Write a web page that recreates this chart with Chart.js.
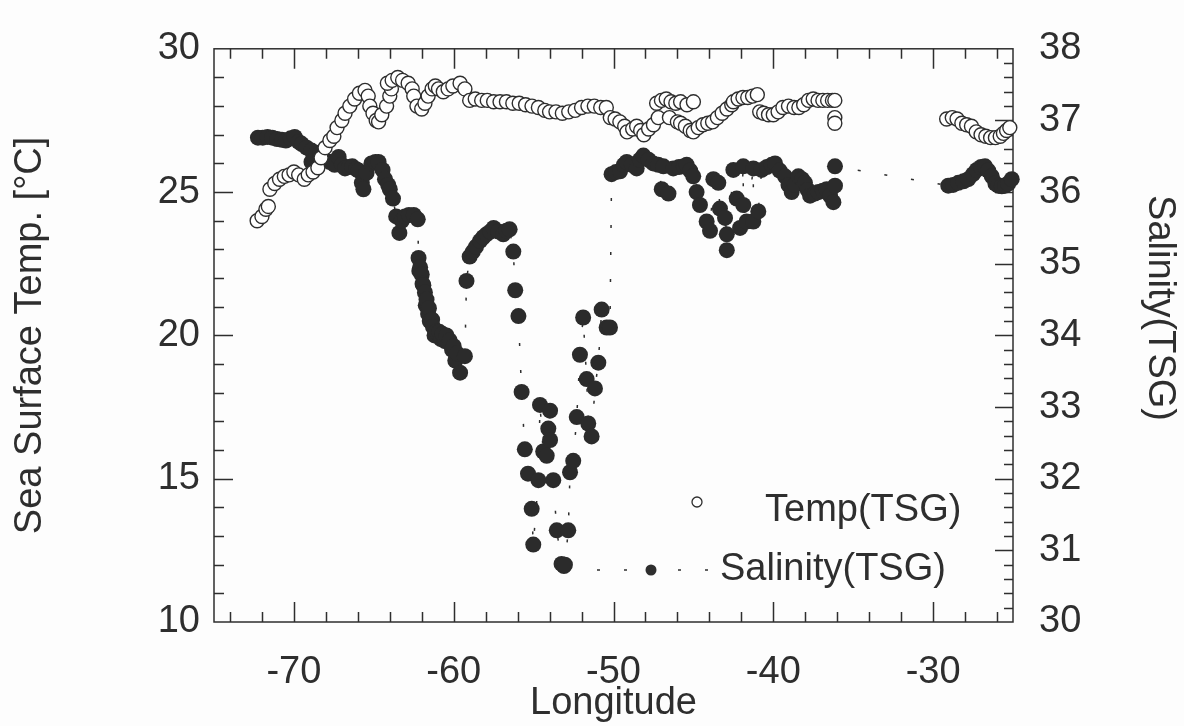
<!DOCTYPE html>
<html>
<head>
<meta charset="utf-8">
<script src="https://cdn.jsdelivr.net/npm/chart.js@4.4.1/dist/chart.umd.min.js"></script>
<style>
  html, body { margin: 0; padding: 0; background: #fdfdfd; }
  #wrap { width: 1184px; height: 726px; position: relative; }
</style>
</head>
<body>
<div id="wrap"><canvas id="tsgChart"></canvas></div>
<script>
// TSG record along the track: longitude and value, same order in each pair of arrays
var tempLon = [
  -72.3, -72.0, -71.75, -71.6, -71.5, -71.2, -70.9, -70.6, -70.3, -70.0,
  -69.7, -69.35, -69.1, -68.8, -68.5, -68.3, -68.05, -67.75, -67.5, -67.3,
  -67.0, -66.8, -66.5, -66.2, -65.9, -65.55, -65.35, -65.25, -65.05, -64.85,
  -64.7, -64.5, -64.2, -64.0, -63.9, -64.15, -63.85, -63.5, -63.2, -62.85,
  -62.6, -62.5, -62.3, -62.0, -61.8, -61.6, -61.35, -61.15, -60.95, -60.65,
  -60.35, -60.05, -59.6, -59.3, -59.0, -58.65, -58.25, -57.9, -57.5, -57.1,
  -56.7, -56.3, -55.9, -55.5, -55.1, -54.7, -54.3, -54.0, -53.6, -53.2,
  -52.8, -52.4, -52.0, -51.6, -51.2, -50.8, -50.45, -50.2, -49.9, -49.6,
  -49.3, -49.15, -48.8, -48.55, -48.3, -48.1, -47.8, -47.5, -47.2, -47.3,
  -47.0, -46.7, -46.4, -46.1, -45.8, -45.4, -45.0, -46.5, -46.0, -45.8,
  -45.5, -45.2, -45.0, -44.7, -44.4, -44.1, -43.8, -43.5, -43.2, -42.9,
  -42.6, -42.5, -42.2, -41.9, -41.6, -41.3, -41.0, -40.85, -40.6, -40.3,
  -40.0, -39.7, -39.4, -39.05, -38.7, -38.4, -38.1, -37.8, -37.5, -37.2,
  -36.9, -36.6, -36.3, -36.15, -36.15, -36.15, -29.15, -28.8, -28.5, -28.2,
  -27.9, -27.6, -27.3, -27.0, -26.7, -26.4, -26.1, -25.8, -25.6, -25.4,
  -25.2
];
var tempVal = [
  24.0, 24.15, 24.4, 24.5, 25.1, 25.3, 25.45, 25.55, 25.6, 25.7,
  25.6, 25.45, 25.6, 25.7, 25.85, 26.2, 26.55, 26.8, 26.95, 27.25,
  27.5, 27.75, 28.0, 28.25, 28.45, 28.55, 28.35, 28.0, 27.75, 27.5,
  27.45, 27.7, 28.0, 28.35, 28.6, 28.8, 28.9, 29.0, 28.9, 28.8,
  28.6, 28.35, 28.0, 27.9, 28.1, 28.35, 28.6, 28.7, 28.6, 28.5,
  28.6, 28.7, 28.8, 28.6, 28.2, 28.25, 28.2, 28.2, 28.15, 28.15,
  28.15, 28.1, 28.1, 28.05, 28.0, 27.95, 27.85, 27.8, 27.8, 27.75,
  27.8, 27.85, 27.95, 28.0, 28.0, 27.95, 27.95, 27.6, 27.55, 27.45,
  27.3, 27.1, 27.2, 27.3, 27.15, 27.0, 27.2, 27.35, 27.6, 28.1,
  28.2, 28.25, 28.15, 28.1, 28.15, 28.05, 28.15, 27.6, 27.45, 27.4,
  27.3, 27.15, 27.1, 27.25, 27.35, 27.4, 27.45, 27.6, 27.75, 27.9,
  28.05, 28.15, 28.25, 28.3, 28.3, 28.35, 28.4, 27.8, 27.75, 27.7,
  27.7, 27.8, 27.95, 28.0, 27.95, 27.95, 28.05, 28.2, 28.25, 28.2,
  28.2, 28.2, 28.2, 28.2, 27.6, 27.4, 27.55, 27.6, 27.55, 27.4,
  27.35, 27.3, 27.1, 27.0, 26.95, 26.9, 26.9, 26.95, 27.05, 27.15,
  27.25
];
var salLon = [
  -72.25, -71.95, -71.65, -71.35, -71.05, -70.75, -70.5, -70.2, -69.95, -69.7,
  -69.5, -69.2, -68.9, -68.9, -68.6, -68.35, -68.05, -67.75, -67.45, -67.2,
  -67.0, -66.8, -66.55, -66.35, -66.1, -65.95, -65.75, -65.65, -65.45, -65.15,
  -64.9, -64.7, -64.45, -64.3, -64.1, -64.0, -63.8, -63.6, -63.4, -63.25,
  -63.05, -62.8, -62.5, -62.25, -62.2, -62.15, -62.1, -62.0, -61.95, -61.9,
  -61.8, -61.75, -61.7, -61.6, -61.55, -61.5, -61.35, -61.3, -61.2, -61.1,
  -60.9, -60.8, -60.7, -60.55, -60.45, -60.25, -60.1, -60.0, -59.9, -59.8,
  -59.6, -59.3, -59.2, -59.0, -58.8, -58.6, -58.35, -58.15, -57.95, -57.7,
  -57.5, -57.2, -56.9, -56.7, -56.5, -56.27, -56.15, -55.95, -55.75, -55.55,
  -55.35, -55.12, -55.02, -54.7, -54.6, -54.4, -54.18, -54.08, -53.97, -53.97,
  -53.77, -53.55, -53.25, -53.1, -53.04, -52.83, -52.72, -52.52, -52.3, -52.1,
  -51.9, -51.68, -51.58, -51.37, -51.16, -50.95, -50.74, -50.43, -50.22, -50.12,
  -49.85, -49.59, -49.35, -49.17, -48.85, -48.55, -48.35, -48.13, -47.8, -47.51,
  -47.2, -46.98, -46.88, -46.56, -46.26, -45.9, -45.6, -45.42, -45.2, -45.01,
  -44.8, -44.59, -44.17, -43.96, -43.75, -43.44, -43.34, -43.02, -42.91, -42.91,
  -42.5, -42.29, -42.08, -41.88, -41.88, -41.67, -41.25, -41.25, -40.94, -40.73,
  -40.4, -40.1, -39.89, -39.6, -39.27, -39.05, -38.85, -38.65, -38.43, -38.2,
  -38.02, -37.85, -37.7, -37.4, -37.18, -36.9, -36.66, -36.45, -36.24, -36.14,
  -36.14, -29.05, -28.75, -28.42, -28.1, -27.8, -27.5, -27.27, -27.0, -26.75,
  -26.55, -26.33, -26.1, -25.92, -25.7, -25.5, -25.3, -25.08
];
var salVal = [
  36.76, 36.76, 36.77, 36.76, 36.74, 36.73, 36.72, 36.75, 36.77, 36.7,
  36.67, 36.62, 36.58, 36.42, 36.55, 36.53, 36.45, 36.42, 36.38, 36.49,
  36.38, 36.33, 36.35, 36.36, 36.32, 36.3, 36.13, 36.04, 36.27, 36.4,
  36.42, 36.42, 36.31, 36.18, 36.1, 36.04, 35.91, 35.66, 35.43, 35.6,
  35.66, 35.68, 35.68, 35.62, 35.08, 34.9, 34.95, 34.85, 34.72, 34.7,
  34.6, 34.42, 34.5, 34.3, 34.38, 34.2, 34.22, 34.12, 34.0, 34.05,
  34.05, 33.95, 34.02, 33.92, 34.0, 33.93, 33.8, 33.85, 33.65, 33.75,
  33.48, 33.71, 34.76, 35.1, 35.17, 35.24, 35.32, 35.37, 35.41, 35.45,
  35.5, 35.45, 35.41, 35.46, 35.48, 35.17, 34.63, 34.27, 33.21, 32.41,
  32.07, 31.58, 31.08, 31.98, 33.03, 32.38, 32.32, 32.7, 32.95, 32.54,
  31.98, 31.28, 30.81, 30.78, 30.8, 31.28, 32.09, 32.25, 32.86, 33.73,
  34.25, 33.39, 32.77, 32.59, 33.26, 33.62, 34.36, 34.11, 34.11, 36.25,
  36.28, 36.29, 36.38, 36.42, 36.38, 36.33, 36.45, 36.51, 36.45, 36.4,
  36.38, 36.04, 36.36, 35.98, 36.33, 36.35, 36.36, 36.38, 36.3, 36.22,
  36.0, 35.82, 35.59, 35.46, 36.18, 36.13, 35.77, 35.64, 35.41, 35.19,
  36.31, 35.91, 35.5, 36.36, 35.82, 35.59, 36.33, 35.59, 35.73, 36.31,
  36.35, 36.38, 36.4, 36.3, 36.22, 36.1, 36.0, 36.1, 36.22, 36.18,
  36.13, 36.03, 35.95, 35.98, 36.0, 36.02, 36.04, 35.95, 35.86, 36.09,
  36.36, 36.09, 36.1, 36.13, 36.15, 36.18, 36.25, 36.31, 36.35, 36.36,
  36.3, 36.22, 36.12, 36.09, 36.08, 36.09, 36.12, 36.18
];

var lonTicks = [-70, -60, -50, -40, -30];
var tempTicks = [10, 15, 20, 25, 30];
var salTicks = [30, 31, 32, 33, 34, 35, 36, 37, 38];

var ink = '#2e2e2e';
var family = "'Liberation Sans', Arial, Helvetica, sans-serif";
var bigFont = { family: family, size: 38 };

function toPoints(xs, ys) {
  return xs.map(function (x, i) { return { x: x, y: ys[i] }; });
}

function fixedTicks(values) {
  return function (scale) {
    scale.ticks = values.map(function (v) { return { value: v }; });
  };
}

// box around the plot with inward ticks on all four sides
var frameTicks = {
  id: 'frameTicks',
  beforeDatasetsDraw: function (chart) {
    var ctx = chart.ctx, a = chart.chartArea;
    var sx = chart.scales.x, sy = chart.scales.y, sy1 = chart.scales.y1;
    var i, p, len;
    ctx.save();
    ctx.strokeStyle = ink;
    ctx.lineWidth = 1.5;
    ctx.beginPath();
    // longitude: minor every 2, major every 10
    for (i = -74; i <= -26; i += 2) {
      p = Math.round(sx.getPixelForValue(i)) + 0.5;
      len = i % 10 === 0 ? 20 : 10;
      ctx.moveTo(p, a.bottom); ctx.lineTo(p, a.bottom - len);
      ctx.moveTo(p, a.top); ctx.lineTo(p, a.top + len);
    }
    // temperature: minor every 1, major every 5
    for (i = 11; i <= 29; i++) {
      p = Math.round(sy.getPixelForValue(i)) + 0.5;
      len = i % 5 === 0 ? 19 : 10;
      ctx.moveTo(a.left, p); ctx.lineTo(a.left + len, p);
    }
    // salinity: minor every 0.2, major every 1
    for (i = 151; i <= 189; i++) {
      p = Math.round(sy1.getPixelForValue(i / 5)) + 0.5;
      len = i % 5 === 0 ? 18 : 9;
      ctx.moveTo(a.right, p); ctx.lineTo(a.right - len, p);
    }
    ctx.stroke();
    ctx.strokeRect(a.left, a.top, a.right - a.left, a.bottom - a.top);
    ctx.restore();
  }
};

// legend inside the plot, lower right, and the salinity axis name
var tsgLegend = {
  id: 'tsgLegend',
  afterDraw: function (chart) {
    var ctx = chart.ctx;
    ctx.save();
    ctx.font = '38px ' + family;
    ctx.fillStyle = ink;
    ctx.strokeStyle = ink;
    ctx.textBaseline = 'alphabetic';

    ctx.lineWidth = 1.3;
    ctx.beginPath();
    ctx.arc(697, 502, 5, 0, Math.PI * 2);
    ctx.fillStyle = '#fff';
    ctx.fill();
    ctx.stroke();
    ctx.fillStyle = ink;
    ctx.fillText('Temp(TSG)', 765, 521);

    ctx.lineWidth = 1.5;
    ctx.setLineDash([3, 24]);
    ctx.beginPath();
    ctx.moveTo(597, 570);
    ctx.lineTo(708, 570);
    ctx.stroke();
    ctx.setLineDash([]);
    ctx.beginPath();
    ctx.arc(651, 570, 5.5, 0, Math.PI * 2);
    ctx.fill();
    ctx.fillText('Salinity(TSG)', 720, 580);

    // right axis name, reading downwards
    ctx.translate(1159, 308);
    ctx.rotate(Math.PI / 2);
    ctx.textAlign = 'center';
    ctx.textBaseline = 'middle';
    ctx.fillText('Salinity(TSG)', 0, 0);
    ctx.restore();
  }
};

var chartCtx = document.getElementById('tsgChart');
new Chart(chartCtx, {
  type: 'scatter',
  data: {
    datasets: [
      {
        label: 'Temp(TSG)',
        data: toPoints(tempLon, tempVal),
        yAxisID: 'y',
        showLine: false,
        pointRadius: 7,
        pointBackgroundColor: '#ffffff',
        pointBorderColor: ink,
        pointBorderWidth: 1.4,
        clip: false,
        order: 0
      },
      {
        label: 'Salinity(TSG)',
        data: toPoints(salLon, salVal),
        yAxisID: 'y1',
        showLine: true,
        borderColor: ink,
        borderWidth: 1.5,
        borderDash: [3, 24],
        pointRadius: 8,
        pointBackgroundColor: '#2b2b2b',
        pointBorderColor: '#2b2b2b',
        pointBorderWidth: 0,
        clip: false,
        order: 1
      }
    ]
  },
  options: {
    responsive: true,
    maintainAspectRatio: false,
    animation: false,
    layout: { padding: { top: 28, left: 0, right: 0, bottom: 0 } },
    plugins: {
      legend: { display: false },
      tooltip: { enabled: false }
    },
    scales: {
      x: {
        type: 'linear',
        min: -75,
        max: -25,
        afterBuildTicks: fixedTicks(lonTicks),
        afterFit: function (s) { s.height = 104; },
        grid: { display: false, drawTicks: false },
        border: { display: false },
        ticks: { font: bigFont, color: ink, padding: 28, maxRotation: 0, autoSkip: false },
        title: { display: true, text: 'Longitude', font: bigFont, color: ink, padding: { top: 0, bottom: 0 } }
      },
      y: {
        type: 'linear',
        position: 'left',
        min: 10,
        max: 30,
        afterBuildTicks: fixedTicks(tempTicks),
        afterFit: function (s) { s.width = 214; },
        grid: { display: false, drawTicks: false },
        border: { display: false },
        ticks: { font: bigFont, color: ink, padding: 14, autoSkip: false },
        title: { display: true, text: 'Sea Surface Temp. [°C]', font: bigFont, color: ink, padding: { top: 8, bottom: 0 } }
      },
      y1: {
        type: 'linear',
        position: 'right',
        min: 30,
        max: 38,
        afterBuildTicks: fixedTicks(salTicks),
        afterFit: function (s) { s.width = 171; },
        grid: { display: false, drawTicks: false },
        border: { display: false },
        ticks: { font: bigFont, color: ink, padding: 26, autoSkip: false },
        title: { display: false }
      }
    }
  },
  plugins: [frameTicks, tsgLegend]
});
</script>
</body>
</html>
